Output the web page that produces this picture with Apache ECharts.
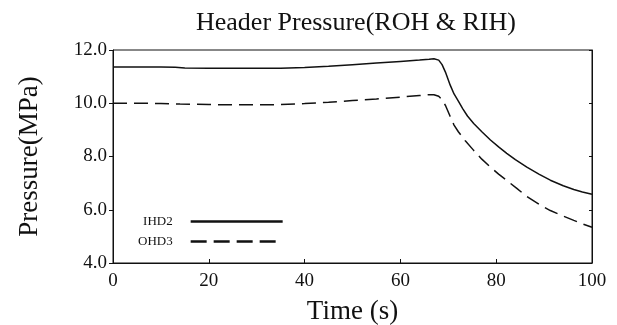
<!DOCTYPE html>
<html>
<head>
<meta charset="utf-8">
<script src="https://cdn.jsdelivr.net/npm/echarts@6/dist/echarts.min.js"></script>
<style>
  html, body { margin: 0; padding: 0; background: #fff; }
  #chart { width: 617px; height: 325px; }
</style>
</head>
<body>
<div id="chart"></div>
<script>
// Header pressure transient for the two headers, time in seconds vs pressure in MPa
const seriesNames = ['IHD2', 'OHD3'];
const xTicks = [0, 20, 40, 60, 80, 100];
const yTicks = [4.0, 6.0, 8.0, 10.0, 12.0];

// IHD2 (solid line): [time s, pressure MPa]
const ihd2 = [
  [0, 11.36], [5, 11.36], [10, 11.36], [13, 11.35], [15, 11.32], [20, 11.31],
  [25, 11.31], [30, 11.31], [35, 11.31], [40, 11.34], [45, 11.39], [50, 11.45],
  [55, 11.51], [60, 11.57], [64, 11.62], [66, 11.65], [67, 11.67], [68, 11.62],
  [68.7, 11.45], [69.4, 11.17], [70.4, 10.68], [71.2, 10.35], [72.1, 10.08],
  [73, 9.8], [74, 9.52], [75.3, 9.24], [77, 8.93], [78.8, 8.62], [80.5, 8.36],
  [82.2, 8.12], [84, 7.88], [86.4, 7.6], [89, 7.33], [91.3, 7.11], [94, 6.9],
  [96.2, 6.76], [98, 6.67], [100, 6.58]
];

// OHD3 (dashed line): [time s, pressure MPa]
const ohd3 = [
  [0, 10.0], [5, 10.0], [10, 9.99], [14, 9.97], [20, 9.95], [25, 9.94],
  [30, 9.94], [35, 9.95], [40, 9.99], [45, 10.04], [50, 10.1], [55, 10.16],
  [60, 10.23], [64, 10.29], [66, 10.32], [67, 10.32], [68, 10.26], [68.8, 10.12],
  [69.5, 9.88], [70.4, 9.5], [71.2, 9.18], [72.1, 8.93], [73.5, 8.6], [75.3, 8.23],
  [77, 7.9], [78.8, 7.6], [80.5, 7.34], [82.2, 7.1], [84.3, 6.8], [86.4, 6.5],
  [89, 6.2], [91.3, 5.97], [94, 5.76], [96.2, 5.6], [98, 5.47], [100, 5.34]
];

const FONT = 'Liberation Serif';
const INK = '#111';
const DASH = [14, 7];

const chart = echarts.init(document.getElementById('chart'), null, { renderer: 'canvas' });

chart.setOption({
  backgroundColor: '#fff',
  animation: false,
  title: {
    text: 'Header Pressure(ROH & RIH)',
    left: 191,
    top: 5,
    textStyle: { fontFamily: FONT, fontSize: 26, fontWeight: 'normal', color: INK }
  },
  legend: {
    orient: 'vertical',
    left: 133,
    top: 210,
    align: 'right',
    itemWidth: 92,
    itemHeight: 10,
    itemGap: 7,
    // keep only the line sample in each legend entry
    itemStyle: { opacity: 0 },
    data: [
      { name: seriesNames[0], lineStyle: { width: 2.5 } },
      { name: seriesNames[1], lineStyle: { width: 2.5, type: [16, 7] } }
    ],
    textStyle: { fontFamily: FONT, fontSize: 13, color: INK, padding: [0, 13, 0, 0] }
  },
  grid: {
    left: 113, right: 25, top: 50, bottom: 62,
    outerBoundsMode: 'none',
    containLabel: false,
    show: true, borderColor: INK, borderWidth: 1, backgroundColor: 'transparent'
  },
  xAxis: {
    type: 'value',
    min: xTicks[0], max: xTicks[xTicks.length - 1], interval: 20,
    name: 'Time (s)',
    nameLocation: 'middle',
    nameGap: 35,
    nameTextStyle: { fontFamily: FONT, fontSize: 27, color: INK },
    axisLine: { show: true, lineStyle: { color: INK, width: 1 } },
    axisTick: { show: true, inside: true, length: 4, lineStyle: { color: INK } },
    axisLabel: {
      fontFamily: FONT, fontSize: 19, color: INK, margin: 9,
      customValues: xTicks
    },
    splitLine: { show: false }
  },
  yAxis: [{
    type: 'value',
    min: yTicks[0], max: yTicks[yTicks.length - 1], interval: 2,
    name: 'Pressure(MPa)',
    nameLocation: 'middle',
    nameGap: 70,
    nameTextStyle: { fontFamily: FONT, fontSize: 27, color: INK },
    axisLine: { show: true, lineStyle: { color: INK, width: 1 } },
    axisTick: { show: true, inside: false, length: 4, lineStyle: { color: INK } },
    axisLabel: {
      fontFamily: FONT, fontSize: 19, color: INK, margin: 6,
      formatter: v => v.toFixed(1)
    },
    splitLine: { show: false }
  }, {
    type: 'value',
    position: 'right',
    min: yTicks[0], max: yTicks[yTicks.length - 1], interval: 2,
    axisLine: { show: true, lineStyle: { color: INK, width: 1 } },
    axisTick: { show: true, inside: true, length: 3, lineStyle: { color: INK } },
    axisLabel: { show: false },
    splitLine: { show: false }
  }],
  series: [{
    name: seriesNames[0],
    type: 'line',
    data: ihd2,
    showSymbol: false,
    symbol: 'none',
    lineStyle: { color: INK, width: 1.5, type: 'solid' },
    itemStyle: { color: INK }
  }, {
    name: seriesNames[1],
    type: 'line',
    data: ohd3,
    showSymbol: false,
    symbol: 'none',
    lineStyle: { color: INK, width: 1.5, type: DASH },
    itemStyle: { color: INK }
  }]
});
</script>
</body>
</html>
